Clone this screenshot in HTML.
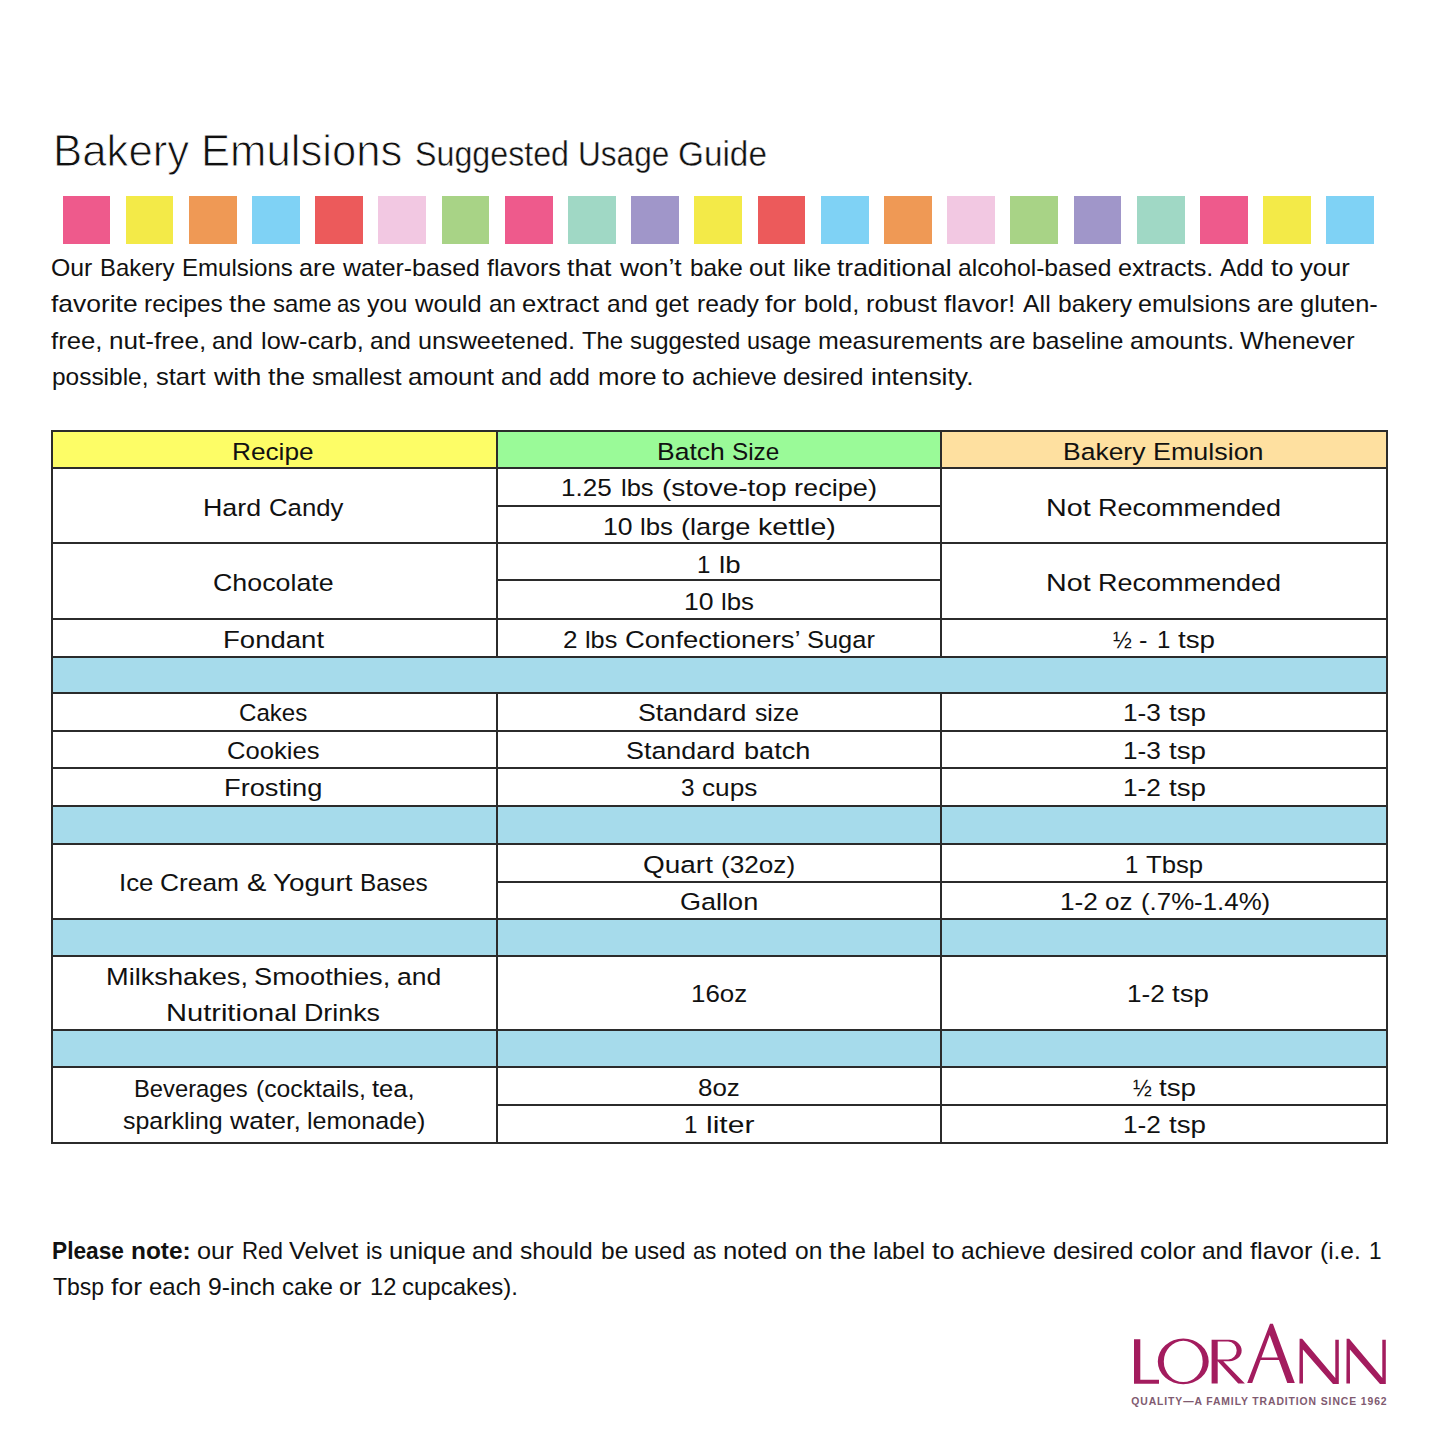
<!DOCTYPE html>
<html><head><meta charset="utf-8"><style>
html,body{margin:0;padding:0;background:#fff}
body{position:relative;width:1445px;height:1445px;overflow:hidden;font-family:"Liberation Sans",sans-serif}
.t{position:absolute;white-space:nowrap;line-height:0;transform-origin:0 0}
.r{position:absolute}
#w{position:absolute;left:0;top:0;width:1445px;height:1445px;background:#fff}
</style></head><body><div id="w">
<div class="r" style="left:62.50px;top:195.80px;width:47.80px;height:48.40px;background:#EE5A8C"></div>
<div class="r" style="left:125.69px;top:195.80px;width:47.80px;height:48.40px;background:#F3EA48"></div>
<div class="r" style="left:188.88px;top:195.80px;width:47.80px;height:48.40px;background:#EF9955"></div>
<div class="r" style="left:252.07px;top:195.80px;width:47.80px;height:48.40px;background:#7FD2F5"></div>
<div class="r" style="left:315.26px;top:195.80px;width:47.80px;height:48.40px;background:#EC5A5B"></div>
<div class="r" style="left:378.45px;top:195.80px;width:47.80px;height:48.40px;background:#F2C8E2"></div>
<div class="r" style="left:441.64px;top:195.80px;width:47.80px;height:48.40px;background:#A8D386"></div>
<div class="r" style="left:504.83px;top:195.80px;width:47.80px;height:48.40px;background:#EE5A8C"></div>
<div class="r" style="left:568.02px;top:195.80px;width:47.80px;height:48.40px;background:#A0D8C5"></div>
<div class="r" style="left:631.21px;top:195.80px;width:47.80px;height:48.40px;background:#A096C9"></div>
<div class="r" style="left:694.40px;top:195.80px;width:47.80px;height:48.40px;background:#F3EA48"></div>
<div class="r" style="left:757.59px;top:195.80px;width:47.80px;height:48.40px;background:#EC5A5B"></div>
<div class="r" style="left:820.78px;top:195.80px;width:47.80px;height:48.40px;background:#7FD2F5"></div>
<div class="r" style="left:883.97px;top:195.80px;width:47.80px;height:48.40px;background:#EF9955"></div>
<div class="r" style="left:947.16px;top:195.80px;width:47.80px;height:48.40px;background:#F2C8E2"></div>
<div class="r" style="left:1010.35px;top:195.80px;width:47.80px;height:48.40px;background:#A8D386"></div>
<div class="r" style="left:1073.54px;top:195.80px;width:47.80px;height:48.40px;background:#A096C9"></div>
<div class="r" style="left:1136.73px;top:195.80px;width:47.80px;height:48.40px;background:#A0D8C5"></div>
<div class="r" style="left:1199.92px;top:195.80px;width:47.80px;height:48.40px;background:#EE5A8C"></div>
<div class="r" style="left:1263.11px;top:195.80px;width:47.80px;height:48.40px;background:#F3EA48"></div>
<div class="r" style="left:1326.30px;top:195.80px;width:47.80px;height:48.40px;background:#7FD2F5"></div>
<div class="r" style="left:51.60px;top:431.20px;width:445.60px;height:37.10px;background:#FDFD66"></div>
<div class="r" style="left:497.20px;top:431.20px;width:443.80px;height:37.10px;background:#9AFA98"></div>
<div class="r" style="left:941.00px;top:431.20px;width:445.80px;height:37.10px;background:#FEE0A0"></div>
<div class="r" style="left:51.60px;top:656.60px;width:1335.20px;height:36.80px;background:#A6DBEB"></div>
<div class="r" style="left:51.60px;top:806.20px;width:1335.20px;height:38.10px;background:#A6DBEB"></div>
<div class="r" style="left:51.60px;top:918.90px;width:1335.20px;height:37.30px;background:#A6DBEB"></div>
<div class="r" style="left:51.60px;top:1029.50px;width:1335.20px;height:37.90px;background:#A6DBEB"></div>
<div class="r" style="left:50.60px;top:430.20px;width:1337.20px;height:2.00px;background:#2b2b2b"></div>
<div class="r" style="left:50.60px;top:467.30px;width:1337.20px;height:2.00px;background:#2b2b2b"></div>
<div class="r" style="left:50.60px;top:542.00px;width:1337.20px;height:2.00px;background:#2b2b2b"></div>
<div class="r" style="left:50.60px;top:617.90px;width:1337.20px;height:2.00px;background:#2b2b2b"></div>
<div class="r" style="left:50.60px;top:655.60px;width:1337.20px;height:2.00px;background:#2b2b2b"></div>
<div class="r" style="left:50.60px;top:692.40px;width:1337.20px;height:2.00px;background:#2b2b2b"></div>
<div class="r" style="left:50.60px;top:729.60px;width:1337.20px;height:2.00px;background:#2b2b2b"></div>
<div class="r" style="left:50.60px;top:767.20px;width:1337.20px;height:2.00px;background:#2b2b2b"></div>
<div class="r" style="left:50.60px;top:805.20px;width:1337.20px;height:2.00px;background:#2b2b2b"></div>
<div class="r" style="left:50.60px;top:843.30px;width:1337.20px;height:2.00px;background:#2b2b2b"></div>
<div class="r" style="left:50.60px;top:917.90px;width:1337.20px;height:2.00px;background:#2b2b2b"></div>
<div class="r" style="left:50.60px;top:955.20px;width:1337.20px;height:2.00px;background:#2b2b2b"></div>
<div class="r" style="left:50.60px;top:1028.50px;width:1337.20px;height:2.00px;background:#2b2b2b"></div>
<div class="r" style="left:50.60px;top:1066.40px;width:1337.20px;height:2.00px;background:#2b2b2b"></div>
<div class="r" style="left:50.60px;top:1141.50px;width:1337.20px;height:2.00px;background:#2b2b2b"></div>
<div class="r" style="left:496.20px;top:504.70px;width:445.80px;height:2.00px;background:#2b2b2b"></div>
<div class="r" style="left:496.20px;top:579.40px;width:445.80px;height:2.00px;background:#2b2b2b"></div>
<div class="r" style="left:496.20px;top:880.70px;width:891.60px;height:2.00px;background:#2b2b2b"></div>
<div class="r" style="left:496.20px;top:1104.00px;width:891.60px;height:2.00px;background:#2b2b2b"></div>
<div class="r" style="left:50.60px;top:430.20px;width:2.00px;height:713.30px;background:#2b2b2b"></div>
<div class="r" style="left:1385.80px;top:430.20px;width:2.00px;height:713.30px;background:#2b2b2b"></div>
<div class="r" style="left:496.20px;top:430.20px;width:2.00px;height:227.40px;background:#2b2b2b"></div>
<div class="r" style="left:496.20px;top:692.40px;width:2.00px;height:451.10px;background:#2b2b2b"></div>
<div class="r" style="left:940.00px;top:430.20px;width:2.00px;height:227.40px;background:#2b2b2b"></div>
<div class="r" style="left:940.00px;top:692.40px;width:2.00px;height:451.10px;background:#2b2b2b"></div>
<svg class="r" style="left:1120px;top:1310px" width="280" height="105" viewBox="1120 1310 280 105">
<g fill="#A31C5E" fill-rule="evenodd">
<path d="M1134,1339.3 H1140.3 V1379.7 H1159 V1383.8 H1134 Z"/>
<path d="M1157.8,1361.45 a25.45,22.85 0 1,0 50.9,0 a25.45,22.85 0 1,0 -50.9,0 Z M1163.8,1361.45 a19.45,20.6 0 1,0 38.9,0 a19.45,20.6 0 1,0 -38.9,0 Z"/>
<path d="M1211.6,1339.8 H1229.5 A12.2,10.7 0 0 1 1229.5,1361.2 H1223.3 L1244.9,1383.6 H1238.2 L1217.7,1361.2 V1383.6 H1211.6 Z M1217.7,1341.6 V1359.4 H1228.2 A8.5,8.9 0 0 0 1228.2,1341.6 Z"/>
<path d="M1270,1323.7 L1272.9,1323.7 L1294.8,1383 L1287.3,1383 L1278.9,1360 L1260.6,1360 L1252.2,1383 L1247.2,1383 Z M1269.7,1335 L1261.5,1357.4 L1277.9,1357.4 Z"/>
<path d="M1299.6,1338.7 L1302.2,1338.7 L1335.3,1378.0 L1335.3,1339.8 L1338.8,1339.8 L1338.8,1384 L1333,1384 L1302.9,1349.5 L1303.0,1383.4 L1299.4,1383.4 Z"/>
<path transform="translate(47,0)" d="M1299.6,1338.7 L1302.2,1338.7 L1335.3,1378.0 L1335.3,1339.8 L1338.8,1339.8 L1338.8,1384 L1333,1384 L1302.9,1349.5 L1303.0,1383.4 L1299.4,1383.4 Z"/>
</g></svg>
<div class="t" style="left:52.62px;top:151.20px;font-size:44px;color:#111;-webkit-text-stroke:0.9px #fff;transform:scaleX(0.9946)">Bakery</div>
<div class="t" style="left:200.57px;top:151.20px;font-size:44px;color:#111;-webkit-text-stroke:0.9px #fff;transform:scaleX(0.9919)">Emulsions</div>
<div class="t" style="left:414.86px;top:154.00px;font-size:34.3px;color:#111;-webkit-text-stroke:0.4px #fff;transform:scaleX(0.9391)">Suggested</div>
<div class="t" style="left:578.08px;top:154.00px;font-size:34.3px;color:#111;-webkit-text-stroke:0.4px #fff;transform:scaleX(0.9208)">Usage</div>
<div class="t" style="left:677.90px;top:154.00px;font-size:34.3px;color:#111;-webkit-text-stroke:0.4px #fff;transform:scaleX(0.9719)">Guide</div>
<div class="t" style="left:51.24px;top:268.30px;font-size:23.4px;color:#111;transform:scaleX(1.0603)">Our</div>
<div class="t" style="left:100.35px;top:268.30px;font-size:23.4px;color:#111;transform:scaleX(1.0211)">Bakery</div>
<div class="t" style="left:182.11px;top:268.30px;font-size:23.4px;color:#111;transform:scaleX(1.0270)">Emulsions</div>
<div class="t" style="left:299.22px;top:268.30px;font-size:23.4px;color:#111;transform:scaleX(1.0770)">are</div>
<div class="t" style="left:342.78px;top:268.30px;font-size:23.4px;color:#111;transform:scaleX(1.0630)">water-based</div>
<div class="t" style="left:486.74px;top:268.30px;font-size:23.4px;color:#111;transform:scaleX(1.0725)">flavors</div>
<div class="t" style="left:567.16px;top:268.30px;font-size:23.4px;color:#111;transform:scaleX(1.1366)">that</div>
<div class="t" style="left:620.04px;top:268.30px;font-size:23.4px;color:#111;transform:scaleX(1.1294)">won’t</div>
<div class="t" style="left:689.71px;top:268.30px;font-size:23.4px;color:#111;transform:scaleX(1.0392)">bake</div>
<div class="t" style="left:749.09px;top:268.30px;font-size:23.4px;color:#111;transform:scaleX(1.1074)">out</div>
<div class="t" style="left:793.05px;top:268.30px;font-size:23.4px;color:#111;transform:scaleX(1.0810)">like</div>
<div class="t" style="left:837.08px;top:268.30px;font-size:23.4px;color:#111;transform:scaleX(1.1293)">traditional</div>
<div class="t" style="left:958.34px;top:268.30px;font-size:23.4px;color:#111;transform:scaleX(1.0541)">alcohol-based</div>
<div class="t" style="left:1118.48px;top:268.30px;font-size:23.4px;color:#111;transform:scaleX(1.0786)">extracts.</div>
<div class="t" style="left:1220.06px;top:268.30px;font-size:23.4px;color:#111;transform:scaleX(1.0487)">Add</div>
<div class="t" style="left:1270.86px;top:268.30px;font-size:23.4px;color:#111;transform:scaleX(1.1521)">to</div>
<div class="t" style="left:1300.22px;top:268.30px;font-size:23.4px;color:#111;transform:scaleX(1.0933)">your</div>
<div class="t" style="left:50.60px;top:303.80px;font-size:23.4px;color:#111;transform:scaleX(1.1297)">favorite</div>
<div class="t" style="left:143.62px;top:303.80px;font-size:23.4px;color:#111;transform:scaleX(1.0437)">recipes</div>
<div class="t" style="left:228.88px;top:303.80px;font-size:23.4px;color:#111;transform:scaleX(1.1426)">the</div>
<div class="t" style="left:272.61px;top:303.80px;font-size:23.4px;color:#111;transform:scaleX(1.0234)">same</div>
<div class="t" style="left:337.17px;top:303.80px;font-size:23.4px;color:#111;transform:scaleX(0.9468)">as</div>
<div class="t" style="left:366.92px;top:303.80px;font-size:23.4px;color:#111;transform:scaleX(1.0697)">you</div>
<div class="t" style="left:415.49px;top:303.80px;font-size:23.4px;color:#111;transform:scaleX(1.0919)">would</div>
<div class="t" style="left:489.13px;top:303.80px;font-size:23.4px;color:#111;transform:scaleX(1.0323)">an</div>
<div class="t" style="left:522.34px;top:303.80px;font-size:23.4px;color:#111;transform:scaleX(1.0978)">extract</div>
<div class="t" style="left:606.56px;top:303.80px;font-size:23.4px;color:#111;transform:scaleX(1.0492)">and</div>
<div class="t" style="left:655.21px;top:303.80px;font-size:23.4px;color:#111;transform:scaleX(1.0391)">get</div>
<div class="t" style="left:696.67px;top:303.80px;font-size:23.4px;color:#111;transform:scaleX(1.0567)">ready</div>
<div class="t" style="left:765.33px;top:303.80px;font-size:23.4px;color:#111;transform:scaleX(1.1424)">for</div>
<div class="t" style="left:804.24px;top:303.80px;font-size:23.4px;color:#111;transform:scaleX(1.0899)">bold,</div>
<div class="t" style="left:866.22px;top:303.80px;font-size:23.4px;color:#111;transform:scaleX(1.0895)">robust</div>
<div class="t" style="left:944.44px;top:303.80px;font-size:23.4px;color:#111;transform:scaleX(1.1205)">flavor!</div>
<div class="t" style="left:1022.91px;top:303.80px;font-size:23.4px;color:#111;transform:scaleX(1.0644)">All</div>
<div class="t" style="left:1058.22px;top:303.80px;font-size:23.4px;color:#111;transform:scaleX(1.0533)">bakery</div>
<div class="t" style="left:1138.47px;top:303.80px;font-size:23.4px;color:#111;transform:scaleX(1.0670)">emulsions</div>
<div class="t" style="left:1257.11px;top:303.80px;font-size:23.4px;color:#111;transform:scaleX(1.0784)">are</div>
<div class="t" style="left:1300.22px;top:303.80px;font-size:23.4px;color:#111;transform:scaleX(1.0884)">gluten-</div>
<div class="t" style="left:50.80px;top:341.30px;font-size:23.4px;color:#111;transform:scaleX(1.0996)">free,</div>
<div class="t" style="left:108.91px;top:341.30px;font-size:23.4px;color:#111;transform:scaleX(1.1174)">nut-free,</div>
<div class="t" style="left:212.39px;top:341.30px;font-size:23.4px;color:#111;transform:scaleX(1.0481)">and</div>
<div class="t" style="left:261.01px;top:341.30px;font-size:23.4px;color:#111;transform:scaleX(1.0831)">low-carb,</div>
<div class="t" style="left:369.98px;top:341.30px;font-size:23.4px;color:#111;transform:scaleX(1.0481)">and</div>
<div class="t" style="left:418.32px;top:341.30px;font-size:23.4px;color:#111;transform:scaleX(1.0775)">unsweetened.</div>
<div class="t" style="left:581.78px;top:341.30px;font-size:23.4px;color:#111;transform:scaleX(1.0208)">The</div>
<div class="t" style="left:629.62px;top:341.30px;font-size:23.4px;color:#111;transform:scaleX(1.0212)">suggested</div>
<div class="t" style="left:747.39px;top:341.30px;font-size:23.4px;color:#111;transform:scaleX(1.0045)">usage</div>
<div class="t" style="left:818.15px;top:341.30px;font-size:23.4px;color:#111;transform:scaleX(1.0655)">measurements</div>
<div class="t" style="left:989.25px;top:341.30px;font-size:23.4px;color:#111;transform:scaleX(1.0773)">are</div>
<div class="t" style="left:1032.35px;top:341.30px;font-size:23.4px;color:#111;transform:scaleX(1.0488)">baseline</div>
<div class="t" style="left:1129.59px;top:341.30px;font-size:23.4px;color:#111;transform:scaleX(1.0848)">amounts.</div>
<div class="t" style="left:1240.19px;top:341.30px;font-size:23.4px;color:#111;transform:scaleX(1.0748)">Whenever</div>
<div class="t" style="left:52.16px;top:376.60px;font-size:23.4px;color:#111;transform:scaleX(1.0446)">possible,</div>
<div class="t" style="left:155.61px;top:376.60px;font-size:23.4px;color:#111;transform:scaleX(1.0912)">start</div>
<div class="t" style="left:213.77px;top:376.60px;font-size:23.4px;color:#111;transform:scaleX(1.1384)">with</div>
<div class="t" style="left:267.91px;top:376.60px;font-size:23.4px;color:#111;transform:scaleX(1.1407)">the</div>
<div class="t" style="left:311.57px;top:376.60px;font-size:23.4px;color:#111;transform:scaleX(1.0431)">smallest</div>
<div class="t" style="left:408.12px;top:376.60px;font-size:23.4px;color:#111;transform:scaleX(1.1011)">amount</div>
<div class="t" style="left:501.18px;top:376.60px;font-size:23.4px;color:#111;transform:scaleX(1.0474)">and</div>
<div class="t" style="left:548.97px;top:376.60px;font-size:23.4px;color:#111;transform:scaleX(1.0474)">add</div>
<div class="t" style="left:597.53px;top:376.60px;font-size:23.4px;color:#111;transform:scaleX(1.1013)">more</div>
<div class="t" style="left:662.28px;top:376.60px;font-size:23.4px;color:#111;transform:scaleX(1.1516)">to</div>
<div class="t" style="left:691.67px;top:376.60px;font-size:23.4px;color:#111;transform:scaleX(1.0512)">achieve</div>
<div class="t" style="left:783.08px;top:376.60px;font-size:23.4px;color:#111;transform:scaleX(1.0497)">desired</div>
<div class="t" style="left:870.72px;top:376.60px;font-size:23.4px;color:#111;transform:scaleX(1.1315)">intensity.</div>
<div class="t" style="left:232.16px;top:451.90px;font-size:24.5px;color:#111;transform:scaleX(1.0701)">Recipe</div>
<div class="t" style="left:202.91px;top:508.30px;font-size:24.5px;color:#111;transform:scaleX(1.0940)">Hard</div>
<div class="t" style="left:268.86px;top:508.30px;font-size:24.5px;color:#111;transform:scaleX(1.0498)">Candy</div>
<div class="t" style="left:213.31px;top:583.00px;font-size:24.5px;color:#111;transform:scaleX(1.0939)">Chocolate</div>
<div class="t" style="left:222.75px;top:639.50px;font-size:24.5px;color:#111;transform:scaleX(1.1238)">Fondant</div>
<div class="t" style="left:657.24px;top:451.50px;font-size:24.5px;color:#111;transform:scaleX(1.0819)">Batch</div>
<div class="t" style="left:732.33px;top:451.50px;font-size:24.5px;color:#111;transform:scaleX(0.9923)">Size</div>
<div class="t" style="left:561.34px;top:488.40px;font-size:24.5px;color:#111;transform:scaleX(1.0641)">1.25</div>
<div class="t" style="left:620.94px;top:488.40px;font-size:24.5px;color:#111;transform:scaleX(1.0410)">lbs</div>
<div class="t" style="left:661.95px;top:488.40px;font-size:24.5px;color:#111;transform:scaleX(1.1430)">(stove-top</div>
<div class="t" style="left:794.26px;top:488.40px;font-size:24.5px;color:#111;transform:scaleX(1.1086)">recipe)</div>
<div class="t" style="left:602.52px;top:526.60px;font-size:24.5px;color:#111;transform:scaleX(1.0841)">10</div>
<div class="t" style="left:639.81px;top:526.60px;font-size:24.5px;color:#111;transform:scaleX(1.0530)">lbs</div>
<div class="t" style="left:681.33px;top:526.60px;font-size:24.5px;color:#111;transform:scaleX(1.1081)">(large</div>
<div class="t" style="left:758.38px;top:526.60px;font-size:24.5px;color:#111;transform:scaleX(1.1657)">kettle)</div>
<div class="t" style="left:697.21px;top:564.80px;font-size:24.5px;color:#111;transform:scaleX(0.9851)">1</div>
<div class="t" style="left:718.98px;top:564.80px;font-size:24.5px;color:#111;transform:scaleX(1.1287)">lb</div>
<div class="t" style="left:683.91px;top:602.00px;font-size:24.5px;color:#111;transform:scaleX(1.0853)">10</div>
<div class="t" style="left:721.25px;top:602.00px;font-size:24.5px;color:#111;transform:scaleX(1.0541)">lbs</div>
<div class="t" style="left:562.64px;top:639.50px;font-size:24.5px;color:#111;transform:scaleX(1.0647)">2</div>
<div class="t" style="left:585.34px;top:639.50px;font-size:24.5px;color:#111;transform:scaleX(1.0325)">lbs</div>
<div class="t" style="left:624.82px;top:639.50px;font-size:24.5px;color:#111;transform:scaleX(1.1214)">Confectioners’</div>
<div class="t" style="left:806.87px;top:639.50px;font-size:24.5px;color:#111;transform:scaleX(1.0385)">Sugar</div>
<div class="t" style="left:1063.34px;top:451.90px;font-size:24.5px;color:#111;transform:scaleX(1.0811)">Bakery</div>
<div class="t" style="left:1153.35px;top:451.90px;font-size:24.5px;color:#111;transform:scaleX(1.0970)">Emulsion</div>
<div class="t" style="left:1046.26px;top:508.30px;font-size:24.5px;color:#111;transform:scaleX(1.1710)">Not</div>
<div class="t" style="left:1098.23px;top:508.30px;font-size:24.5px;color:#111;transform:scaleX(1.1013)">Recommended</div>
<div class="t" style="left:1046.26px;top:583.00px;font-size:24.5px;color:#111;transform:scaleX(1.1710)">Not</div>
<div class="t" style="left:1098.23px;top:583.00px;font-size:24.5px;color:#111;transform:scaleX(1.1013)">Recommended</div>
<div class="t" style="left:1112.70px;top:639.50px;font-size:24.5px;color:#111;transform:scaleX(0.9199)">½</div>
<div class="t" style="left:1139.04px;top:639.50px;font-size:24.5px;color:#111;transform:scaleX(1.0341)">-</div>
<div class="t" style="left:1156.65px;top:639.50px;font-size:24.5px;color:#111;transform:scaleX(0.9802)">1</div>
<div class="t" style="left:1177.62px;top:639.50px;font-size:24.5px;color:#111;transform:scaleX(1.1347)">tsp</div>
<div class="t" style="left:239.32px;top:713.20px;font-size:24.5px;color:#111;transform:scaleX(0.9839)">Cakes</div>
<div class="t" style="left:227.15px;top:750.80px;font-size:24.5px;color:#111;transform:scaleX(1.0451)">Cookies</div>
<div class="t" style="left:224.28px;top:788.20px;font-size:24.5px;color:#111;transform:scaleX(1.1121)">Frosting</div>
<div class="t" style="left:637.71px;top:713.40px;font-size:24.5px;color:#111;transform:scaleX(1.0903)">Standard</div>
<div class="t" style="left:754.98px;top:713.40px;font-size:24.5px;color:#111;transform:scaleX(1.0064)">size</div>
<div class="t" style="left:626.10px;top:750.90px;font-size:24.5px;color:#111;transform:scaleX(1.0971)">Standard</div>
<div class="t" style="left:744.20px;top:750.90px;font-size:24.5px;color:#111;transform:scaleX(1.1078)">batch</div>
<div class="t" style="left:681.00px;top:788.10px;font-size:24.5px;color:#111;transform:scaleX(0.9910)">3</div>
<div class="t" style="left:701.59px;top:788.10px;font-size:24.5px;color:#111;transform:scaleX(1.0701)">cups</div>
<div class="t" style="left:1123.23px;top:713.40px;font-size:24.5px;color:#111;transform:scaleX(1.0714)">1-3</div>
<div class="t" style="left:1168.71px;top:713.40px;font-size:24.5px;color:#111;transform:scaleX(1.1321)">tsp</div>
<div class="t" style="left:1123.23px;top:750.90px;font-size:24.5px;color:#111;transform:scaleX(1.0714)">1-3</div>
<div class="t" style="left:1168.71px;top:750.90px;font-size:24.5px;color:#111;transform:scaleX(1.1321)">tsp</div>
<div class="t" style="left:1123.23px;top:788.10px;font-size:24.5px;color:#111;transform:scaleX(1.0714)">1-2</div>
<div class="t" style="left:1168.71px;top:788.10px;font-size:24.5px;color:#111;transform:scaleX(1.1321)">tsp</div>
<div class="t" style="left:118.59px;top:882.50px;font-size:24.5px;color:#111;transform:scaleX(1.0533)">Ice</div>
<div class="t" style="left:159.72px;top:882.50px;font-size:24.5px;color:#111;transform:scaleX(1.0740)">Cream</div>
<div class="t" style="left:246.82px;top:882.50px;font-size:24.5px;color:#111;transform:scaleX(1.1893)">&amp;</div>
<div class="t" style="left:272.63px;top:882.50px;font-size:24.5px;color:#111;transform:scaleX(1.1360)">Yogurt</div>
<div class="t" style="left:359.55px;top:882.50px;font-size:24.5px;color:#111;transform:scaleX(0.9942)">Bases</div>
<div class="t" style="left:642.66px;top:864.80px;font-size:24.5px;color:#111;transform:scaleX(1.1411)">Quart</div>
<div class="t" style="left:721.04px;top:864.80px;font-size:24.5px;color:#111;transform:scaleX(1.0670)">(32oz)</div>
<div class="t" style="left:679.90px;top:901.80px;font-size:24.5px;color:#111;transform:scaleX(1.1041)">Gallon</div>
<div class="t" style="left:1125.03px;top:864.50px;font-size:24.5px;color:#111;transform:scaleX(0.9750)">1</div>
<div class="t" style="left:1145.89px;top:864.50px;font-size:24.5px;color:#111;transform:scaleX(1.0496)">Tbsp</div>
<div class="t" style="left:1060.13px;top:901.80px;font-size:24.5px;color:#111;transform:scaleX(1.0700)">1-2</div>
<div class="t" style="left:1105.09px;top:901.80px;font-size:24.5px;color:#111;transform:scaleX(1.0583)">oz</div>
<div class="t" style="left:1140.81px;top:901.80px;font-size:24.5px;color:#111;transform:scaleX(1.0545)">(.7%-1.4%)</div>
<div class="t" style="left:105.88px;top:976.50px;font-size:24.5px;color:#111;transform:scaleX(1.1094)">Milkshakes,</div>
<div class="t" style="left:253.87px;top:976.50px;font-size:24.5px;color:#111;transform:scaleX(1.1115)">Smoothies,</div>
<div class="t" style="left:396.72px;top:976.50px;font-size:24.5px;color:#111;transform:scaleX(1.0827)">and</div>
<div class="t" style="left:166.23px;top:1013.00px;font-size:24.5px;color:#111;transform:scaleX(1.1864)">Nutritional</div>
<div class="t" style="left:303.76px;top:1013.00px;font-size:24.5px;color:#111;transform:scaleX(1.0950)">Drinks</div>
<div class="t" style="left:690.54px;top:993.80px;font-size:24.5px;color:#111;transform:scaleX(1.0563)">16oz</div>
<div class="t" style="left:1126.53px;top:993.80px;font-size:24.5px;color:#111;transform:scaleX(1.0674)">1-2</div>
<div class="t" style="left:1171.84px;top:993.80px;font-size:24.5px;color:#111;transform:scaleX(1.1279)">tsp</div>
<div class="t" style="left:134.36px;top:1089.40px;font-size:24.5px;color:#111;transform:scaleX(0.9706)">Beverages</div>
<div class="t" style="left:255.74px;top:1089.40px;font-size:24.5px;color:#111;transform:scaleX(1.0092)">(cocktails,</div>
<div class="t" style="left:371.91px;top:1089.40px;font-size:24.5px;color:#111;transform:scaleX(1.0444)">tea,</div>
<div class="t" style="left:123.00px;top:1121.00px;font-size:24.5px;color:#111;transform:scaleX(1.0162)">sparkling</div>
<div class="t" style="left:229.84px;top:1121.00px;font-size:24.5px;color:#111;transform:scaleX(1.0844)">water,</div>
<div class="t" style="left:307.49px;top:1121.00px;font-size:24.5px;color:#111;transform:scaleX(1.0227)">lemonade)</div>
<div class="t" style="left:697.54px;top:1087.80px;font-size:24.5px;color:#111;transform:scaleX(1.0588)">8oz</div>
<div class="t" style="left:684.01px;top:1125.00px;font-size:24.5px;color:#111;transform:scaleX(0.9860)">1</div>
<div class="t" style="left:705.70px;top:1125.00px;font-size:24.5px;color:#111;transform:scaleX(1.2283)">liter</div>
<div class="t" style="left:1132.60px;top:1087.80px;font-size:24.5px;color:#111;transform:scaleX(0.9193)">½</div>
<div class="t" style="left:1159.35px;top:1087.80px;font-size:24.5px;color:#111;transform:scaleX(1.1340)">tsp</div>
<div class="t" style="left:1123.23px;top:1125.00px;font-size:24.5px;color:#111;transform:scaleX(1.0714)">1-2</div>
<div class="t" style="left:1168.71px;top:1125.00px;font-size:24.5px;color:#111;transform:scaleX(1.1321)">tsp</div>
<div class="t" style="left:51.93px;top:1251.00px;font-size:23.4px;color:#111;font-weight:bold;transform:scaleX(0.9704)">Please</div>
<div class="t" style="left:131.25px;top:1251.00px;font-size:23.4px;color:#111;font-weight:bold;transform:scaleX(1.0447)">note:</div>
<div class="t" style="left:197.20px;top:1251.00px;font-size:23.4px;color:#111;transform:scaleX(1.0817)">our</div>
<div class="t" style="left:241.61px;top:1251.00px;font-size:23.4px;color:#111;transform:scaleX(0.9514)">Red</div>
<div class="t" style="left:289.40px;top:1251.00px;font-size:23.4px;color:#111;transform:scaleX(1.0859)">Velvet</div>
<div class="t" style="left:366.09px;top:1251.00px;font-size:23.4px;color:#111;transform:scaleX(0.9657)">is</div>
<div class="t" style="left:389.27px;top:1251.00px;font-size:23.4px;color:#111;transform:scaleX(1.0928)">unique</div>
<div class="t" style="left:471.86px;top:1251.00px;font-size:23.4px;color:#111;transform:scaleX(1.0467)">and</div>
<div class="t" style="left:520.40px;top:1251.00px;font-size:23.4px;color:#111;transform:scaleX(1.0529)">should</div>
<div class="t" style="left:600.69px;top:1251.00px;font-size:23.4px;color:#111;transform:scaleX(1.0485)">be</div>
<div class="t" style="left:634.43px;top:1251.00px;font-size:23.4px;color:#111;transform:scaleX(1.0130)">used</div>
<div class="t" style="left:692.86px;top:1251.00px;font-size:23.4px;color:#111;transform:scaleX(0.9446)">as</div>
<div class="t" style="left:723.07px;top:1251.00px;font-size:23.4px;color:#111;transform:scaleX(1.0998)">noted</div>
<div class="t" style="left:795.08px;top:1251.00px;font-size:23.4px;color:#111;transform:scaleX(1.0522)">on</div>
<div class="t" style="left:829.32px;top:1251.00px;font-size:23.4px;color:#111;transform:scaleX(1.1399)">the</div>
<div class="t" style="left:873.00px;top:1251.00px;font-size:23.4px;color:#111;transform:scaleX(1.0492)">label</div>
<div class="t" style="left:931.90px;top:1251.00px;font-size:23.4px;color:#111;transform:scaleX(1.1509)">to</div>
<div class="t" style="left:961.28px;top:1251.00px;font-size:23.4px;color:#111;transform:scaleX(1.0505)">achieve</div>
<div class="t" style="left:1052.63px;top:1251.00px;font-size:23.4px;color:#111;transform:scaleX(1.0491)">desired</div>
<div class="t" style="left:1139.70px;top:1251.00px;font-size:23.4px;color:#111;transform:scaleX(1.0939)">color</div>
<div class="t" style="left:1202.09px;top:1251.00px;font-size:23.4px;color:#111;transform:scaleX(1.0467)">and</div>
<div class="t" style="left:1250.08px;top:1251.00px;font-size:23.4px;color:#111;transform:scaleX(1.0933)">flavor</div>
<div class="t" style="left:1320.36px;top:1251.00px;font-size:23.4px;color:#111;transform:scaleX(1.0456)">(i.e.</div>
<div class="t" style="left:1368.63px;top:1251.00px;font-size:23.4px;color:#111;transform:scaleX(0.9644)">1</div>
<div class="t" style="left:53.00px;top:1286.60px;font-size:23.4px;color:#111;transform:scaleX(0.9829)">Tbsp</div>
<div class="t" style="left:111.46px;top:1286.60px;font-size:23.4px;color:#111;transform:scaleX(1.1365)">for</div>
<div class="t" style="left:149.16px;top:1286.60px;font-size:23.4px;color:#111;transform:scaleX(1.0243)">each</div>
<div class="t" style="left:208.28px;top:1286.60px;font-size:23.4px;color:#111;transform:scaleX(1.0555)">9-inch</div>
<div class="t" style="left:281.88px;top:1286.60px;font-size:23.4px;color:#111;transform:scaleX(1.0281)">cake</div>
<div class="t" style="left:339.33px;top:1286.60px;font-size:23.4px;color:#111;transform:scaleX(1.0683)">or</div>
<div class="t" style="left:369.57px;top:1286.60px;font-size:23.4px;color:#111;transform:scaleX(1.0133)">12</div>
<div class="t" style="left:401.83px;top:1286.60px;font-size:23.4px;color:#111;transform:scaleX(1.0256)">cupcakes).</div>
<div class="t" style="left:1131.30px;top:1402.00px;font-size:10.4px;color:#805a70;font-weight:bold;letter-spacing:0.896px">QUALITY—A FAMILY TRADITION SINCE 1962</div>
</div></body></html>
